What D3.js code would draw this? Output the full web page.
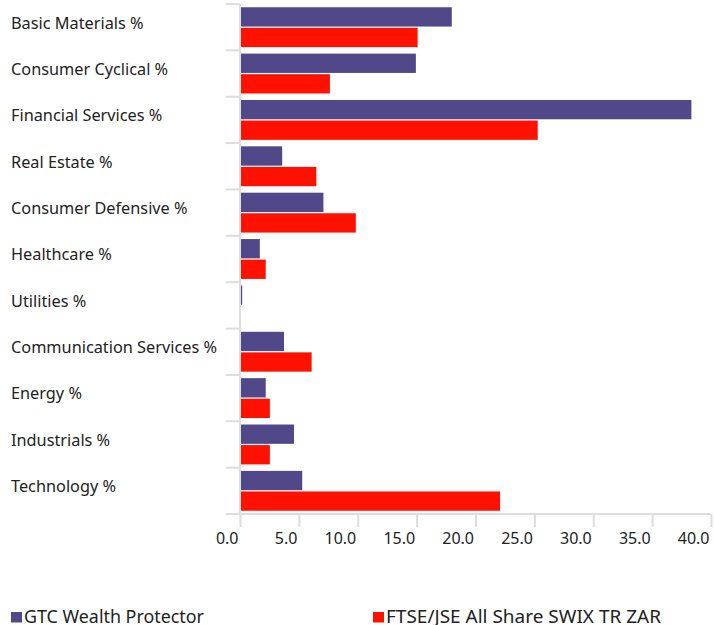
<!DOCTYPE html>
<html>
<head>
<meta charset="utf-8">
<script src="https://cdn.jsdelivr.net/npm/d3@7"></script>
<style>
  body { margin: 0; background: #fff; }
  text { font-family: "Noto Sans", "Open Sans", sans-serif; fill: #222; }
</style>
</head>
<body>
<div id="chart"></div>
<script>
const categories = [
  "Basic Materials %", "Consumer Cyclical %", "Financial Services %", "Real Estate %",
  "Consumer Defensive %", "Healthcare %", "Utilities %", "Communication Services %",
  "Energy %", "Industrials %", "Technology %"
];
const seriesNames = ["GTC Wealth Protector", "FTSE/JSE All Share SWIX TR ZAR"];
const fund = [17.9, 14.85, 38.25, 3.5, 7.0, 1.6, 0.1, 3.65, 2.1, 4.5, 5.2];
const index = [15.0, 7.55, 25.2, 6.4, 9.75, 2.1, 0.0, 6.0, 2.45, 2.45, 22.0];
const tickValues = [0, 5, 10, 15, 20, 25, 30, 35, 40];
const colors = ["#51488a", "#ff1100"];

const width = 714, height = 625;
const x0 = 240, x1 = 711, yTop = 4, yBottom = 514;

const svg = d3.select("#chart").append("svg")
  .attr("width", width)
  .attr("height", height);

const x = d3.scaleLinear().domain([0, 40]).range([x0, x1]);
const y = d3.scaleBand().domain(categories).range([yTop, yBottom]).paddingInner(0.14).paddingOuter(0.07);
const ySub = d3.scaleBand().domain([0, 1]).range([0, y.bandwidth()]).paddingInner(0.06);

// category separators on the left axis
const band = (yBottom - yTop) / categories.length;
svg.append("g")
  .attr("stroke", "#ddd")
  .attr("stroke-width", 2)
  .selectAll("line")
  .data(d3.range(categories.length))
  .join("line")
  .attr("x1", 226).attr("x2", x0)
  .attr("y1", i => yTop + i * band).attr("y2", i => yTop + i * band);

svg.append("line")
  .attr("x1", x0).attr("x2", x0)
  .attr("y1", yTop).attr("y2", yBottom)
  .attr("stroke", "#ddd").attr("stroke-width", 2);

// bottom axis
const xAxis = svg.append("g")
  .attr("transform", `translate(0,${yBottom})`)
  .call(d3.axisBottom(x).tickValues(tickValues).tickFormat(d3.format(".1f")).tickSize(13).tickPadding(6));
xAxis.select(".domain").attr("d", `M226,0H${x1}`).attr("stroke", "#ddd").attr("stroke-width", 2);
xAxis.selectAll(".tick line").attr("stroke", "#ddd").attr("stroke-width", 2);
xAxis.selectAll(".tick text")
  .attr("font-size", 16)
  .attr("fill", "#222")
  .attr("font-family", "'Noto Sans', sans-serif")
  .attr("text-anchor", "end")
  .attr("dx", -2);

// bars
const rows = categories.map((c, i) => ({ c, vals: [fund[i], index[i]] }));
const groups = svg.append("g").selectAll("g")
  .data(rows)
  .join("g")
  .attr("transform", d => `translate(0,${y(d.c)})`);

groups.selectAll("rect")
  .data(d => d.vals.map((v, k) => ({ v, k })))
  .join("rect")
  .attr("x", x(0) + 1)
  .attr("y", d => ySub(d.k))
  .attr("width", d => Math.max(0, x(d.v) - x(0)))
  .attr("height", ySub.bandwidth())
  .attr("fill", d => colors[d.k]);

// category labels
svg.append("g")
  .selectAll("text")
  .data(categories)
  .join("text")
  .attr("x", 11)
  .attr("y", d => y(d) + y.bandwidth() / 2 - 3)
  .attr("dominant-baseline", "middle")
  .attr("font-size", 16.3)
  .text(d => d);

// legend
const legendX = [11, 373];
const legendW = [180, 275];
const legend = svg.append("g")
  .selectAll("g")
  .data(seriesNames)
  .join("g")
  .attr("transform", (d, i) => `translate(${legendX[i]},612)`);
legend.append("rect")
  .attr("width", 11).attr("height", 10.5)
  .attr("fill", (d, i) => colors[i]);
legend.append("text")
  .attr("x", 13)
  .attr("y", 11)
  .attr("font-size", 18.5)
  .attr("textLength", (d, i) => legendW[i])
  .attr("lengthAdjust", "spacingAndGlyphs")
  .text(d => d);
</script>
</body>
</html>
